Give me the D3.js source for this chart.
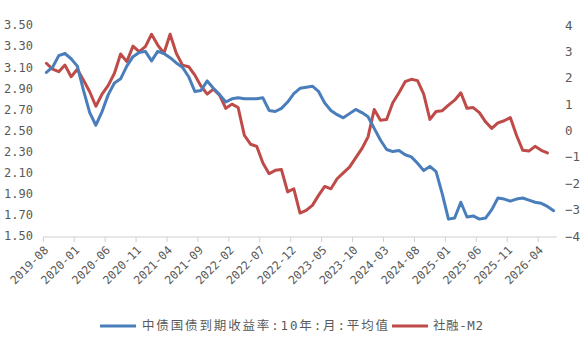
<!DOCTYPE html>
<html>
<head>
<meta charset="utf-8">
<script src="https://cdn.jsdelivr.net/npm/d3@7"></script>
<style>
  body { margin: 0; background: #fff; }
  text { fill: #595959; }
</style>
</head>
<body>
<div id="chart"></div>
<script>
// monthly categories 2019-08 .. 2026-06
const months = d3.timeMonth.range(new Date(2019, 7, 1), new Date(2026, 6, 1)).map(d3.timeFormat("%Y-%m"))

const bondYield = [
  3.05, 3.10, 3.21, 3.23, 3.18, 3.11, 2.88, 2.67, 2.55, 2.68,
  2.84, 2.95, 2.99, 3.11, 3.20, 3.24, 3.25, 3.16, 3.25, 3.23,
  3.19, 3.14, 3.10, 3.01, 2.87, 2.88, 2.97, 2.90, 2.84, 2.77,
  2.80, 2.81, 2.80, 2.80, 2.80, 2.81, 2.69, 2.68, 2.71, 2.77,
  2.85, 2.90, 2.91, 2.92, 2.87, 2.76, 2.69, 2.65, 2.62, 2.66,
  2.70, 2.67, 2.63, 2.52, 2.41, 2.32, 2.30, 2.31, 2.27, 2.25,
  2.19, 2.12, 2.16, 2.11, 1.90, 1.66, 1.67, 1.82, 1.68, 1.69,
  1.66, 1.67, 1.75, 1.86, 1.85, 1.83, 1.85, 1.86, 1.84, 1.82,
  1.81, 1.78, 1.74
]

const tsfM2 = [
  2.55, 2.33, 2.23, 2.48, 2.04, 2.32, 1.91, 1.47, 0.92, 1.38,
  1.71, 2.17, 2.90, 2.61, 3.20, 2.99, 3.18, 3.65, 3.24, 2.93,
  3.65, 2.93, 2.48, 2.42, 2.10, 1.68, 1.38, 1.57, 1.34, 0.84,
  1.00, 0.87, -0.18, -0.52, -0.60, -1.23, -1.64, -1.51, -1.48, -2.33,
  -2.21, -3.13, -3.03, -2.84, -2.46, -2.12, -2.21, -1.83, -1.61, -1.39,
  -1.04, -0.69, -0.24, 0.80, 0.39, 0.42, 1.05, 1.43, 1.85, 1.94,
  1.89, 1.38, 0.42, 0.72, 0.75, 0.96, 1.15, 1.43, 0.84, 0.87,
  0.68, 0.33, 0.08, 0.29, 0.37, 0.49, -0.18, -0.75, -0.78, -0.60,
  -0.75, -0.85
]

const xTickLabels = ["2019-08","2020-01","2020-06","2020-11","2021-04","2021-09","2022-02",
  "2022-07","2022-12","2023-05","2023-10","2024-03","2024-08","2025-01","2025-06","2025-11","2026-04"]
const leftTicks = [1.5, 1.7, 1.9, 2.1, 2.3, 2.5, 2.7, 2.9, 3.1, 3.3, 3.5]
const rightTicks = [-4, -3, -2, -1, 0, 1, 2, 3, 4]

const seriesNames = ["中债国债到期收益率:10年:月:平均值", "社融-M2"]
const colors = ["#4a7ebb", "#be4b48"]

const w = 586
const h = 338
const numFont = "'DejaVu Sans Mono', monospace"

const svg = d3.select("#chart")
  .append("svg")
  .attr("width", w)
  .attr("height", h)

const x = d3.scaleBand()
  .domain(months)
  .range([43.3, 556.7])
const bw = x.bandwidth()

const yL = d3.scaleLinear().domain([1.5, 3.5]).range([236, 25])
const yR = d3.scaleLinear().domain([-4, 4]).range([236, 25])

// bottom axis line + ticks
svg.append("line")
  .attr("x1", 43.3).attr("x2", 556.7)
  .attr("y1", 237).attr("y2", 237)
  .attr("stroke", "#cfcfcf")
  .attr("stroke-width", 1)

svg.selectAll(".xtick")
  .data(xTickLabels)
  .enter()
  .append("line")
  .attr("class", "xtick")
  .attr("x1", d => x(d)).attr("x2", d => x(d))
  .attr("y1", 237).attr("y2", 242)
  .attr("stroke", "#cfcfcf")

svg.selectAll(".xlab")
  .data(xTickLabels)
  .enter()
  .append("text")
  .attr("class", "xlab")
  .attr("transform", d => `translate(${x(d) + 3},${248}) rotate(-45)`)
  .attr("text-anchor", "end")
  .attr("dy", "0.35em")
  .style("font-family", numFont)
  .style("font-size", "11.5px")
  .text(d => d)

// left axis
const leftAxis = d3.axisLeft(yL)
  .tickValues(leftTicks)
  .tickSize(0)
  .tickPadding(0)
  .tickFormat(d3.format(".2f"))
svg.append("g")
  .attr("transform", "translate(33,0)")
  .call(leftAxis)
  .call(g => g.select(".domain").remove())
  .call(g => g.selectAll("text").style("font-family", numFont).style("font-size", "12px").attr("fill", "#595959"))

// right axis
const rightAxis = d3.axisRight(yR)
  .tickValues(rightTicks)
  .tickSize(0)
  .tickPadding(0)
  .tickFormat(d3.format("d"))
svg.append("g")
  .attr("transform", "translate(565,0)")
  .call(rightAxis)
  .call(g => g.select(".domain").remove())
  .call(g => g.selectAll("text").style("font-family", numFont).style("font-size", "12.5px").attr("fill", "#595959"))

// lines
const lineL = d3.line()
  .x((d, i) => x(months[i]) + bw / 2)
  .y(d => yL(d))
const lineR = d3.line()
  .x((d, i) => x(months[i]) + bw / 2)
  .y(d => yR(d))

svg.append("path")
  .datum(tsfM2)
  .attr("d", lineR)
  .attr("fill", "none")
  .attr("stroke", colors[1])
  .attr("stroke-width", 3)
  .attr("stroke-linejoin", "round")
  .attr("stroke-linecap", "round")

svg.append("path")
  .datum(bondYield)
  .attr("d", lineL)
  .attr("fill", "none")
  .attr("stroke", colors[0])
  .attr("stroke-width", 3)
  .attr("stroke-linejoin", "round")
  .attr("stroke-linecap", "round")

// legend
const legendY = 326
const legend = [
  {x: 100, tx: 142, len: 246},
  {x: 392, tx: 433, len: 50}
]
legend.forEach((l, i) => {
  svg.append("line")
    .attr("x1", l.x).attr("x2", l.x + 36)
    .attr("y1", legendY).attr("y2", legendY)
    .attr("stroke", colors[i])
    .attr("stroke-width", 3)
  svg.append("text")
    .attr("x", l.tx)
    .attr("y", legendY)
    .attr("dy", "0.35em")
    .attr("textLength", l.len)
    .attr("lengthAdjust", "spacing")
    .style("font-family", "'DejaVu Sans Mono', 'Noto Sans CJK SC', sans-serif")
    .style("font-size", "12.5px")
    .text(seriesNames[i])
})
</script>
</body>
</html>
